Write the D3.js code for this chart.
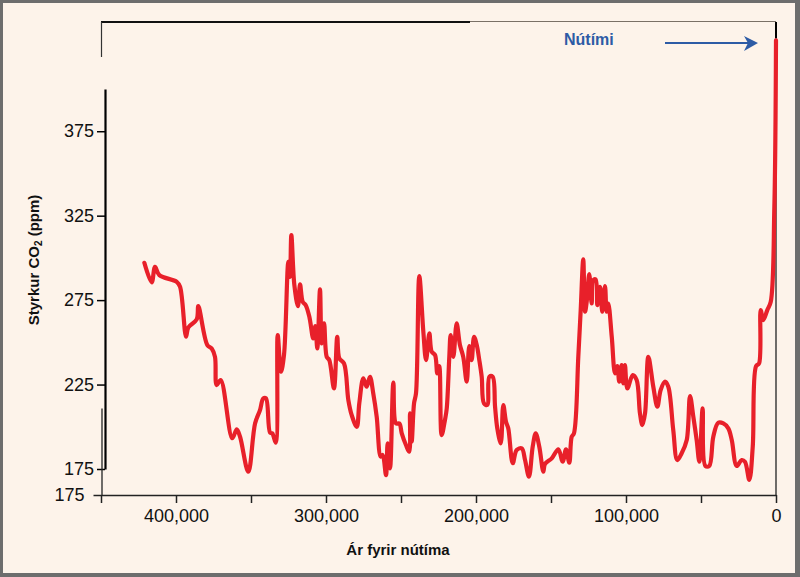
<!DOCTYPE html>
<html>
<head>
<meta charset="utf-8">
<script src="https://cdn.jsdelivr.net/npm/d3@7"></script>
<style>
  body { margin: 0; background: #6d6d6d; }
  svg { display: block; font-family: "Liberation Sans", Arial, sans-serif; }
</style>
</head>
<body>
<div id="chart"></div>
<script>
// thousands of years before present
const kyrBP = [421.1, 416.2, 414.0, 411.1, 399.5, 397.3, 393.3, 391.8, 386.2, 385.1,
  379.1, 376.2, 374.0, 372.9, 370.2, 362.5, 359.5, 357.3, 351.8, 347.3,
  344.0, 341.8, 340.0, 337.3, 335.8, 333.5, 332.2, 330.0, 328.0, 325.1,
  324.0, 323.1, 321.1, 318.7, 317.3, 315.5, 313.5, 311.1, 308.5, 307.1,
  305.8, 304.0, 302.9, 301.3, 299.5, 297.8, 294.7, 292.5, 291.1, 288.0,
  285.1, 282.9, 279.5, 277.8, 275.1, 272.9, 270.7, 268.5, 266.2, 263.5,
  262.2, 260.0, 258.9, 257.3, 255.1, 253.3, 251.1, 249.5, 246.7, 244.5,
  244.0, 242.9, 241.3, 240.0, 237.8, 235.1, 233.3, 231.1, 229.5, 227.3,
  225.8, 224.5, 222.9, 220.7, 219.5, 217.8, 216.9, 215.1, 212.9, 210.7,
  208.5, 206.2, 204.5, 202.9, 201.3, 199.5, 197.8, 196.2, 194.7, 192.5,
  191.1, 188.9, 187.3, 185.8, 183.5, 181.8, 180.0, 178.5, 175.5, 172.9,
  169.5, 167.3, 164.7, 162.2, 160.2, 157.8, 155.1, 154.0, 149.5, 145.1,
  142.2, 140.0, 137.8, 136.2, 134.7, 131.8, 130.2, 128.5, 127.3, 126.2,
  124.5, 122.9, 121.8, 120.2, 119.1, 117.3, 115.8, 114.0, 112.9, 111.8,
  109.5, 107.3, 105.8, 104.5, 102.9, 101.8, 100.7, 99.1, 95.5, 92.9,
  90.7, 89.1, 87.3, 85.1, 81.8, 79.1, 76.9, 74.0, 71.8, 68.5,
  65.8, 62.9, 59.5, 57.3, 55.1, 52.9, 51.1, 48.9, 47.1, 44.5,
  41.8, 38.5, 35.1, 31.8, 29.5, 26.2, 22.9, 20.7, 17.8, 15.5,
  13.3, 11.3, 10.2, 8.5, 5.8, 3.5, 1.1, 0];

// CO2 concentration (ppm)
const co2 = [297.1, 285.5, 294.7, 289.8, 285.8, 282.9, 253.3, 258.8, 263.6, 271.4,
  248.4, 246.4, 241.4, 224.7, 227.7, 193.2, 198.5, 194.1, 173.4, 202.0,
  209.9, 216.8, 216.8, 196.5, 196.1, 190.6, 254.3, 232.6, 242.5, 297.7,
  288.8, 313.5, 283.9, 271.4, 284.3, 274.0, 272.0, 265.1, 252.3, 259.6,
  246.4, 281.3, 249.4, 261.2, 241.4, 239.5, 222.7, 253.3, 240.5, 237.5,
  215.8, 207.0, 200.0, 213.9, 228.7, 223.7, 229.6, 219.8, 205.9, 182.3,
  183.3, 171.4, 190.2, 175.4, 226.1, 202.0, 202.0, 196.1, 189.2, 185.2,
  208.0, 191.2, 213.9, 219.8, 289.2, 256.2, 239.5, 255.3, 244.4, 242.5,
  231.6, 235.9, 195.1, 204.0, 210.9, 241.4, 254.3, 241.4, 261.2, 248.4,
  241.4, 226.7, 247.8, 239.5, 253.3, 248.4, 239.5, 229.6, 213.9, 212.9,
  229.6, 229.6, 211.9, 199.1, 190.2, 212.9, 203.0, 199.1, 178.4, 186.2,
  187.2, 180.3, 170.4, 188.2, 196.1, 188.2, 173.4, 178.0, 181.3, 186.7,
  179.3, 186.7, 178.7, 194.1, 196.1, 241.4, 269.1, 299.1, 268.1, 274.0,
  290.4, 273.0, 286.8, 287.2, 272.0, 282.9, 268.1, 283.3, 268.1, 273.0,
  253.3, 231.6, 235.9, 226.7, 236.5, 225.7, 236.5, 222.7, 230.6, 227.7,
  208.0, 201.0, 208.0, 241.4, 223.7, 211.9, 221.7, 226.7, 223.7, 198.1,
  180.3, 184.3, 192.2, 218.2, 205.9, 192.2, 179.3, 210.9, 176.8, 176.8,
  194.1, 202.4, 202.0, 199.1, 192.2, 176.8, 180.3, 179.3, 168.5, 188.2,
  235.9, 237.5, 269.1, 263.2, 269.1, 274.0, 330.2, 428.8];

const yTicks = [175, 225, 275, 325, 375];
const xTicks = [450000, 400000, 350000, 300000, 250000, 200000, 150000, 100000, 50000, 0];
const xLabeled = [400000, 300000, 200000, 100000, 0];
const lowerTick = [175];

const width = 800, height = 577;
const data = kyrBP.map((k, i) => ({ year: k * 1000, ppm: co2[i] }));

const svg = d3.select("#chart")
  .append("svg")
    .attr("width", width)
    .attr("height", height);

// cream panel inside the grey frame
svg.append("rect")
  .attr("x", 3).attr("y", 3)
  .attr("width", 792).attr("height", 570)
  .attr("fill", "#fdf3ea");

/* scales */
const xScale = d3.scaleLinear()
  .domain([450000, 0])
  .range([101, 776]);

const yScale = d3.scaleLinear()
  .domain([175, 400])
  .range([469, 89]);

const yLower = d3.scaleLinear()
  .domain([175, 225])
  .range([495, 408]);

/* frame pieces */
const frame = svg.append("g");
frame.append("line")   // top edge, heavy part
  .attr("x1", 101).attr("x2", 470).attr("y1", 22).attr("y2", 22)
  .attr("stroke", "#111").attr("stroke-width", 2);
frame.append("line")   // top edge, light part
  .attr("x1", 470).attr("x2", xScale(0)).attr("y1", 21.5).attr("y2", 21.5)
  .attr("stroke", "#7a7066").attr("stroke-width", 1);
frame.append("line")   // left stub
  .attr("x1", 101.5).attr("x2", 101.5).attr("y1", 22).attr("y2", 57)
  .attr("stroke", "#333").attr("stroke-width", 1.2);
frame.append("line")   // right edge
  .attr("x1", xScale(0)).attr("x2", xScale(0)).attr("y1", 22).attr("y2", 495)
  .attr("stroke", "#222").attr("stroke-width", 1.3);
frame.append("line")
  .attr("x1", xScale(0)).attr("x2", xScale(0)).attr("y1", 22).attr("y2", 38)
  .attr("stroke", "#000").attr("stroke-width", 2);

/* upper y axis */
const yAxis = d3.axisLeft(yScale)
  .tickValues(yTicks)
  .tickSize(8)
  .tickSizeOuter(0)
  .tickPadding(3);

const yAxisG = svg.append("g")
  .attr("transform", "translate(105,0)")
  .call(yAxis);
yAxisG.select(".domain").attr("stroke-width", 2.2).attr("stroke", "#000");
yAxisG.selectAll(".tick line").attr("stroke-width", 1.5).attr("stroke", "#000");
yAxisG.selectAll("text")
  .attr("font-size", 18)
  .attr("font-family", "Liberation Sans, Arial, sans-serif")
  .attr("fill", "#111");

/* lower y axis (single tick) */
const yLowerAxis = d3.axisLeft(yLower)
  .tickValues(lowerTick)
  .tickSize(8)
  .tickSizeOuter(0)
  .tickPadding(9);
const yLowerG = svg.append("g")
  .attr("transform", "translate(101.5,0)")
  .call(yLowerAxis);
yLowerG.select(".domain").attr("stroke", "#222").attr("stroke-width", 1.3);
yLowerG.selectAll(".tick line").attr("stroke", "#222").attr("stroke-width", 1.5);
yLowerG.selectAll("text")
  .attr("font-size", 18)
  .attr("font-family", "Liberation Sans, Arial, sans-serif")
  .attr("fill", "#111");

/* x axis */
const xAxis = d3.axisBottom(xScale)
  .tickValues(xTicks)
  .tickSize(8)
  .tickSizeOuter(0)
  .tickPadding(6)
  .tickFormat(d => xLabeled.includes(d) ? d3.format(",")(d) : "");

const xAxisG = svg.append("g")
  .attr("transform", "translate(0,495)")
  .call(xAxis);
xAxisG.select(".domain").attr("stroke", "#222").attr("stroke-width", 1.5);
xAxisG.selectAll(".tick line").attr("stroke", "#222").attr("stroke-width", 1.5);
xAxisG.selectAll("text")
  .attr("font-size", 18)
  .attr("font-family", "Liberation Sans, Arial, sans-serif")
  .attr("fill", "#111");

/* CO2 line */
const lineGenerator = d3.line()
  .x(d => xScale(d.year))
  .y(d => yScale(d.ppm))
  .curve(d3.curveCatmullRom.alpha(0.5));   // soft corners like the source

svg.append("path")
  .datum(data)
  .attr("d", lineGenerator)
  .attr("fill", "none")
  .attr("stroke", "#e8202a")
  .attr("stroke-width", 4.2)
  .attr("stroke-linejoin", "round")
  .attr("stroke-linecap", "round");

/* axis titles */
svg.append("text")
  .attr("x", 398).attr("y", 555)
  .attr("text-anchor", "middle")
  .attr("font-size", 15)
  .attr("font-weight", "bold")
  .attr("fill", "#111")
  .text("Ár fyrir nútíma");

const yTitle = svg.append("text")
  .attr("transform", "translate(39,260) rotate(-90)")
  .attr("text-anchor", "middle")
  .attr("font-size", 15)
  .attr("font-weight", "bold")
  .attr("fill", "#111");
yTitle.append("tspan").text("Styrkur CO");
yTitle.append("tspan").attr("font-size", 10).attr("dy", 3).text("2");
yTitle.append("tspan").attr("dy", -3).text(" (ppm)");

/* present-day annotation */
svg.append("text")
  .attr("x", 564).attr("y", 45)
  .attr("font-size", 16)
  .attr("font-weight", "bold")
  .attr("fill", "#2d5ba5")
  .text("Nútími");

const tipX = xScale(0) - 18;
svg.append("line")
  .attr("x1", 665).attr("x2", tipX - 8).attr("y1", 43).attr("y2", 43)
  .attr("stroke", "#2d5ba5").attr("stroke-width", 2);
svg.append("path")
  .attr("d", `M${tipX},43 L${tipX - 14},36 L${tipX - 10},43 L${tipX - 14},51 Z`)
  .attr("fill", "#2d5ba5");
</script>
</body>
</html>
